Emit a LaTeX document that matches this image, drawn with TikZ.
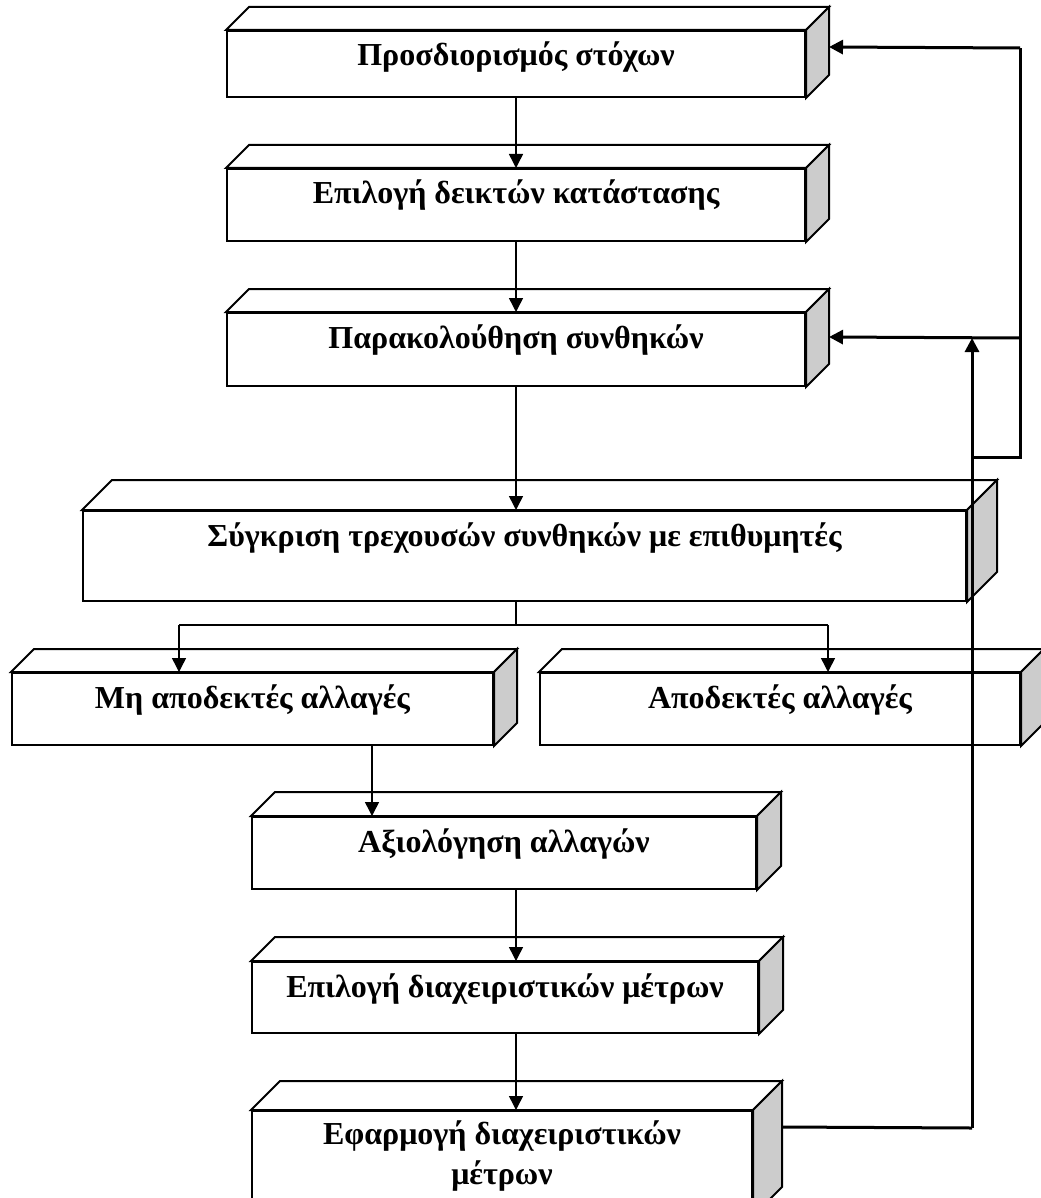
\documentclass[tikz,border=0pt]{standalone}
\usepackage{fontspec}
\setmainfont{Liberation Serif}
\usetikzlibrary{calc, positioning, fit}
\usetikzlibrary{arrows.meta}

\begin{document}
\begin{tikzpicture}[x=0.5pt,y=-0.5pt,
  face/.style={draw, line width=1pt, fill=white, inner sep=0pt},
  side/.style={draw, line width=1pt, fill=black!20},
  lbl/.style={font=\fontsize{16}{20}\selectfont\bfseries, align=center, inner sep=0pt},
  link/.style={line width=0.75pt, -{Triangle[length=7pt,width=7pt]}},
  back/.style={line width=1.5pt}]
\useasboundingbox (0,0) rectangle (1040,1198);

% the boxes: name / front corners / depth
\foreach \nm/\xa/\ya/\xb/\yb/\d in {b1/227/31/805/97/23, b2/227/169/805/241/23,
    b3/227/313/805/386/23, b4/83/511/966/601/30, b5/12/673/493/745/23,
    b6/540/673/1020/745/23, b7/252/817/756/889/24, b8/252/962/758/1033/24,
    b9/252/1111/752/1215/29} {
  \node[face, fit={(\xa,\ya) (\xb,\yb)}] (\nm) {};
  \filldraw[face] (\nm.north west) -- ++(\d,-\d) -- ($(\nm.north east)+(\d,-\d)$) -- (\nm.north east) -- cycle;
  \filldraw[side] (\nm.north east) -- ++(\d,-\d) -- ($(\nm.south east)+(\d,-\d)$) -- (\nm.south east) -- cycle;
}

% labels
\foreach \nm/\txt in {b1/{Προσδιορισμός στόχων}, b2/{Επιλογή δεικτών κατάστασης},
    b3/{Παρακολούθηση συνθηκών}, b4/{Σύγκριση τρεχουσών συνθηκών με επιθυμητές},
    b5/{Μη αποδεκτές αλλαγές}, b6/{Αποδεκτές αλλαγές}, b7/{Αξιολόγηση αλλαγών},
    b8/{Επιλογή διαχειριστικών μέτρων}} {
  \node[lbl, anchor=base] (t-\nm) at ($(\nm.north)+(0,36)$) {\txt};
}
\node[lbl, anchor=base] (t-b9) at ($(b9.north)+(0,74)$) {Εφαρμογή διαχειριστικών\\μέτρων};

% helper points
\coordinate (mid) at (516,0);
\coordinate (k5) at (372,0);
\coordinate (sp) at (516,625);
\coordinate (sl) at (179,625);
\coordinate (sr) at (828,625);
\coordinate (r1) at (1020,48);
\coordinate (r3) at (1020,338);
\coordinate (r0) at (1020,457);
\coordinate (up) at (972,457);
\coordinate (f9) at (972,1128);
\coordinate (s1) at ($(b1.north east)+(23,17)$);
\coordinate (s3) at ($(b3.north east)+(23,25)$);
\coordinate (s9) at ($(b9.north east)+(29,17)$);

% main flow
\draw[link] (b1.south -| mid) -- (b2.north -| mid);
\draw[link] (b2.south -| mid) -- (b3.north -| mid);
\draw[link] (b3.south -| mid) -- (b4.north -| mid);
\draw[line width=0.75pt] (b4.south -| mid) -- (sp);
\draw[link] (sl) -- (sl |- b5.north);
\draw[link] (sr) -- (sr |- b6.north);
\draw[line width=0.75pt] (sl) -- (sr);
\draw[link] (b5.south -| k5) -- (b7.north -| k5);
\draw[link] (b7.south -| mid) -- (b8.north -| mid);
\draw[link] (b8.south -| mid) -- (b9.north -| mid);

% feedback
\draw[back] (s9) -- (f9);
\draw[back, -{Triangle[length=7pt,width=7pt]}] (f9) -- (f9 |- r3);
\draw[back] (up) -- (r0) -- (r1);
\draw[back, -{Triangle[length=7pt,width=7pt]}] (r1) -- (s1);
\draw[back, -{Triangle[length=7pt,width=7pt]}] (r3) -- (s3);

\end{tikzpicture}
\end{document}
